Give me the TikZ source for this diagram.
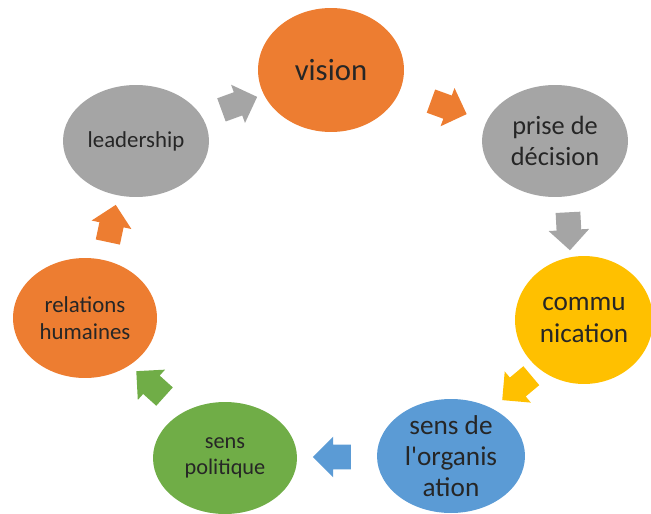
\documentclass[tikz,border=0pt]{standalone}
\usepackage{fontspec}
\setmainfont{Carlito}[Ligatures=TeXOff]
\usetikzlibrary{shapes.geometric,shapes.arrows,calc}

\definecolor{orangeC}{HTML}{ED7D31}
\definecolor{grayC}{HTML}{A5A5A5}
\definecolor{yellowC}{HTML}{FFC000}
\definecolor{blueC}{HTML}{5B9BD5}
\definecolor{greenC}{HTML}{70AD47}

\tikzset{
  bubble/.style={ellipse, inner sep=0pt, align=center, text=black!85},
  cycarrow/.style={single arrow, minimum height=0.76cm, minimum width=0.8cm,
    inner xsep=0pt, inner ysep=0.24cm, single arrow head extend=0.16cm,
    text height=0pt, text depth=0pt, text width=0pt}
}

\begin{document}
\begin{tikzpicture}[x=0.02cm, y=-0.02cm]
    \useasboundingbox (0,0) rectangle (651,513);
    % vision
    \node[bubble, fill=orangeC, minimum width=2.92cm, minimum height=2.48cm,
      font=\fontsize{17.5}{20}\selectfont] (vis) at (331,70) {vision};
    % prise de decision
    \node[bubble, fill=grayC, minimum width=2.92cm, minimum height=2.24cm,
      font=\fontsize{15}{17.5}\selectfont] (dec) at (555,141) {prise de\\décision};
    % communication
    \node[bubble, fill=yellowC, minimum width=2.76cm, minimum height=2.56cm,
      font=\fontsize{15.5}{18}\selectfont] (com) at (584,320) {commu\\nication};
    % sens de l'organisation
    \node[bubble, fill=blueC, minimum width=2.96cm, minimum height=2.24cm,
      font=\fontsize{15.5}{17.5}\selectfont] (org) at (451,456) {sens de\\l'organis\\ation};
    % sens politique
    \node[bubble, fill=greenC, minimum width=2.88cm, minimum height=2.24cm,
      font=\fontsize{12.7}{15}\selectfont] (pol) at (225,458) {sens\\politique};
    % relations humaines
    \node[bubble, fill=orangeC, minimum width=2.88cm, minimum height=2.4cm,
      font=\fontsize{13}{15}\selectfont] (rel) at (85,318) {relations\\humaines};
    % leadership
    \node[bubble, fill=grayC, minimum width=2.92cm, minimum height=2.24cm,
      font=\fontsize{13}{15}\selectfont] (lead) at (136,141) {leadership};
    % arrows
    \node[cycarrow, fill=grayC, rotate=20] (a1) at ($(lead)!0.5!(vis)$) {};
    \node[cycarrow, fill=orangeC, rotate=-20] (a2) at ($(vis)!0.5!(dec)$) {};
    \node[cycarrow, fill=grayC, rotate=-87] (a3) at ($(dec)!0.47!(com)$) {};
    \node[cycarrow, fill=yellowC, rotate=220] (a4) at ($(com)!0.47!(org)$) {};
    \node[cycarrow, fill=blueC, rotate=180] (a5) at ($(org)!0.5!(pol)$) {};
    \node[cycarrow, fill=greenC, rotate=138] (a6) at ($(pol)!0.5!(rel)$) {};
    \node[cycarrow, fill=orangeC, rotate=78] (a7) at ($(rel)!0.5!(lead)$) {};
\end{tikzpicture}
\end{document}
